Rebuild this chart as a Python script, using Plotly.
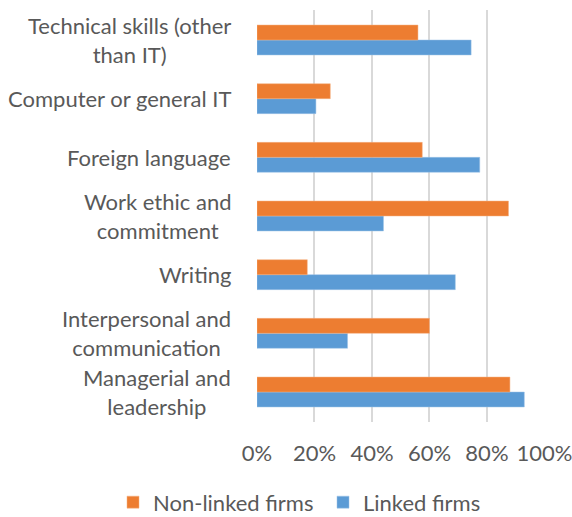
import plotly.graph_objects as go

# categories listed bottom to top
categories = ['Managerial and leadership', 'Interpersonal and communication', 'Writing',
              'Work ethic and commitment', 'Foreign language', 'Computer or general IT',
              'Technical skills (other than IT)']
labels = ['Managerial and<br>leadership', 'Interpersonal and<br>communication', 'Writing',
          'Work ethic and<br>commitment', 'Foreign language', 'Computer or general IT',
          'Technical skills (other<br>than IT)']
non_linked = [0.88, 0.60, 0.175, 0.875, 0.575, 0.255, 0.56]
linked = [0.93, 0.315, 0.69, 0.44, 0.775, 0.205, 0.745]
ticks = [0, 0.2, 0.4, 0.6, 0.8, 1.0]
tick_text = ['0%', '20%', '40%', '60%', '80%', '100%']

font = 'Lato'
grey = '#595959'
fsize = 22

fig = go.Figure()
fig.add_trace(go.Bar(y=categories, x=linked, name='Linked firms', orientation='h',
                     marker=dict(color='#5B9BD5', line=dict(color='#9DC3E6', width=0.5))))
fig.add_trace(go.Bar(y=categories, x=non_linked, name='Non-linked firms', orientation='h',
                     marker=dict(color='#ED7D31', line=dict(color='#F4B183', width=0.5))))

# category labels centred within a right-aligned block, like Excel
for cat, lab in zip(categories, labels):
    fig.add_annotation(x=0, y=cat, xref='paper', yref='y', text=lab, showarrow=False,
                       xanchor='right', align='center', xshift=-24,
                       font=dict(family=font, size=fsize, color=grey))

fig.update_layout(
    width=572, height=517,
    margin=dict(l=257, r=27, t=10, b=95, autoexpand=False),
    paper_bgcolor='white', plot_bgcolor='white',
    barmode='group', bargap=0.49, bargroupgap=0,
    font=dict(family=font, size=fsize, color=grey),
    showlegend=True,
    legend=dict(orientation='h', traceorder='reversed', xref='paper', yref='paper',
                x=-0.5, y=-0.195, xanchor='left', yanchor='middle',
                font=dict(family=font, size=fsize, color=grey), itemwidth=30,
                entrywidth=165, tracegroupgap=0),
)
fig.update_xaxes(range=[0, 1.002], tickvals=ticks, ticktext=tick_text, showgrid=True,
                 gridcolor='#D9D9D9', gridwidth=1.5, zeroline=False, showline=False,
                 automargin=False, ticklabelstandoff=16, ticklabeloverflow='allow',
                 tickfont=dict(family=font, size=fsize, color=grey))
fig.update_yaxes(showticklabels=False, showgrid=False, zeroline=False, showline=False,
                 automargin=False)

fig.write_html("out.html", config={'displayModeBar': False},
               post_script="document.body.style.margin='0';")
